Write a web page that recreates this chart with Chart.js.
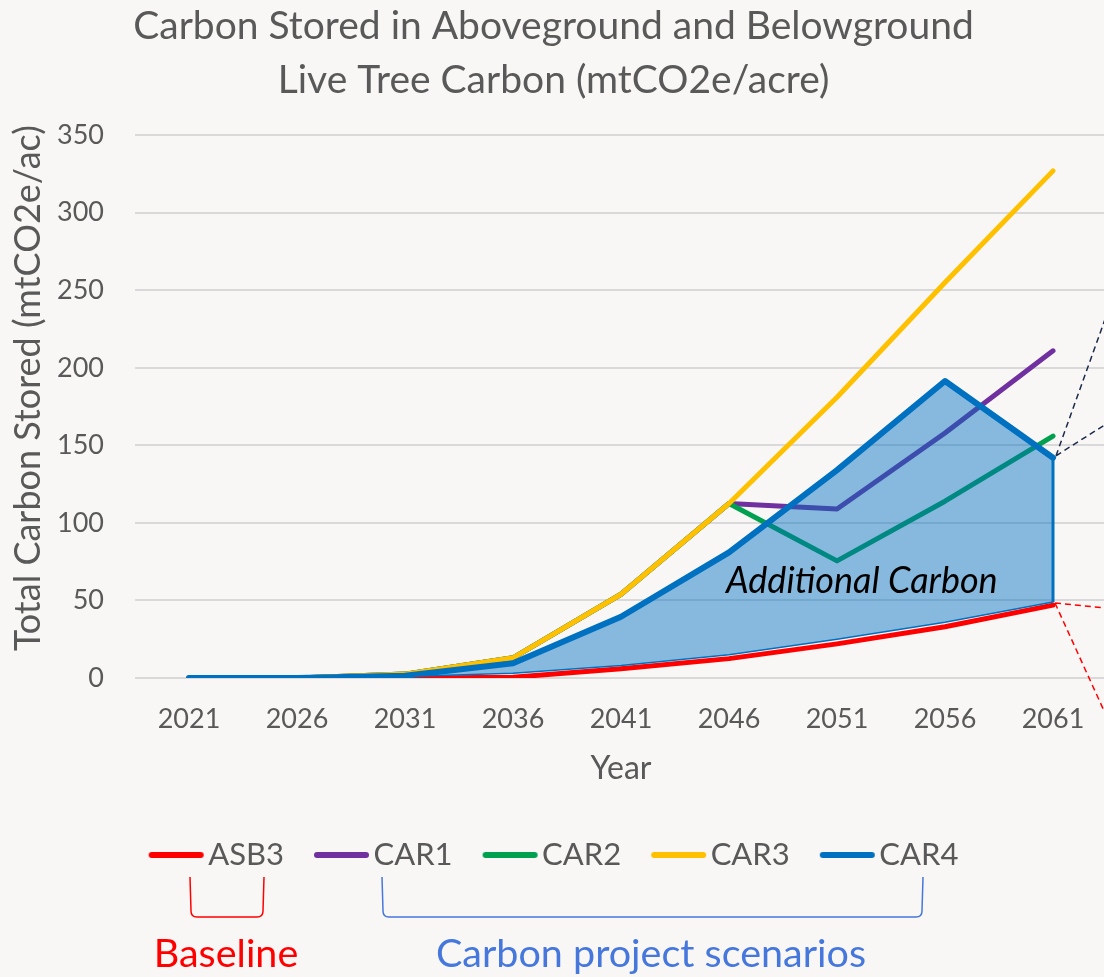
<!DOCTYPE html>
<html>
<head>
<meta charset="utf-8">
<script src="https://cdn.jsdelivr.net/npm/chart.js@4.4.1/dist/chart.umd.min.js"></script>
<style>
  html, body { margin: 0; padding: 0; background: #f8f7f5; overflow: hidden; }
  #wrap { width: 1104px; height: 977px; overflow: hidden; }
  canvas { display: block; }
</style>
</head>
<body>
<div id="wrap"><canvas id="chart" width="1107" height="977"></canvas></div>
<script>
// values (mtCO2e/ac)
const years = ['2021', '2026', '2031', '2036', '2041', '2046', '2051', '2056', '2061']
const asb3 = [0, 0, 0, 0.5, 6, 12.5, 22, 33, 47]
const car1 = [0, 0, 2.5, 13, 54, 112.5, 109, 158, 211]
const car2 = [0, 0, 2.5, 13, 54, 112.5, 75.5, 114, 156]
const car3 = [0, 0, 2.5, 13, 54, 112.5, 181, 255, 327]
const car4 = [0, 0, 1.5, 9.5, 39.5, 81, 134, 191.5, 142]
// lower edge of the shaded "Additional Carbon" area
const fillBase = [0, 0, 1, 3, 8, 15, 25, 36, 49]
const yTicks = [0, 50, 100, 150, 200, 250, 300, 350]

const FONT = 'Lato, "Open Sans", sans-serif'
const GREY = '#595959'
const BG = '#f8f7f5'

// legend swatch: a short thick line, drawn so the text sits right after it
function lineMarker(color) {
  const c = document.createElement('canvas')
  c.width = 72
  c.height = 10
  const g = c.getContext('2d')
  g.strokeStyle = color
  g.lineWidth = 6
  g.lineCap = 'round'
  g.beginPath()
  g.moveTo(17, 5)
  g.lineTo(66, 5)
  g.stroke()
  return c
}

function series(label, data, color, order, width) {
  return {
    label, data, order,
    borderColor: color,
    backgroundColor: color,
    borderWidth: width || 5,
    borderCapStyle: 'round',
    borderJoinStyle: 'round',
    pointRadius: 0,
    tension: 0,
    fill: false,
  }
}

const datasets = [
  series('ASB3', asb3, '#ff0000', 3),
  series('CAR1', car1, '#7030a0', 5),
  series('CAR2', car2, '#00a04f', 4),
  series('CAR3', car3, '#ffc000', 1),
  Object.assign(series('CAR4', car4, '#0070c0', 0, 6), {
    fill: { target: 5 },
    backgroundColor: 'rgba(0,112,192,0.46)',
  }),
  series('base', fillBase, '#0070c0', 2, 1.5),
]

const extras = {
  id: 'extras',
  beforeDraw(chart) {
    const ctx = chart.ctx
    ctx.save()
    ctx.fillStyle = BG
    ctx.fillRect(0, 0, chart.width, chart.height)
    ctx.restore()
  },
  afterDatasetsDraw(chart) {
    const ctx = chart.ctx
    const x = chart.scales.x
    const y = chart.scales.y
    const last = years.length - 1
    const top = chart.getDatasetMeta(4).data[last]
    const bot = chart.getDatasetMeta(5).data[last]

    ctx.save()
    // right edge of the shaded polygon
    ctx.strokeStyle = '#0070c0'
    ctx.lineWidth = 3
    ctx.beginPath()
    ctx.moveTo(top.x, top.y)
    ctx.lineTo(bot.x, bot.y)
    ctx.stroke()

    // label inside the area
    const lx = x.getPixelForValue(6) * 0.77 + x.getPixelForValue(7) * 0.23
    ctx.fillStyle = '#000'
    ctx.font = 'italic 36px ' + FONT
    ctx.textAlign = 'center'
    ctx.textBaseline = 'middle'
    ctx.fillText('Additional Carbon', lx, y.getPixelForValue(62))

    // callout lines leaving the chart on the right
    ctx.lineWidth = 1.5
    ctx.setLineDash([6, 4])
    ctx.strokeStyle = '#1b2a4a'
    ctx.beginPath()
    ctx.moveTo(top.x + 3, top.y - 2)
    ctx.lineTo(top.x + 63, top.y - 169)
    ctx.moveTo(top.x + 3, top.y - 2)
    ctx.lineTo(top.x + 63, top.y - 40)
    ctx.stroke()
    ctx.strokeStyle = '#ff0000'
    ctx.beginPath()
    ctx.moveTo(bot.x + 2, bot.y + 1)
    ctx.lineTo(bot.x + 62, bot.y + 7)
    ctx.moveTo(bot.x + 2, bot.y + 1)
    ctx.lineTo(bot.x + 62, bot.y + 133)
    ctx.stroke()
    ctx.restore()
  },
  afterDraw(chart) {
    const ctx = chart.ctx
    function bracket(x1, x2, yTop, yBot, color) {
      const r = 6
      ctx.strokeStyle = color
      ctx.lineWidth = 1.5
      ctx.beginPath()
      ctx.moveTo(x1 - 1, yTop)
      ctx.lineTo(x1, yBot - r)
      ctx.quadraticCurveTo(x1, yBot, x1 + r, yBot)
      ctx.lineTo(x2 - r, yBot)
      ctx.quadraticCurveTo(x2, yBot, x2, yBot - r)
      ctx.lineTo(x2 + 1, yTop)
      ctx.stroke()
    }
    ctx.save()
    bracket(191, 263, 877, 917, '#ff0000')
    bracket(383, 922, 877, 917, '#4577dd')
    ctx.font = '39.5px ' + FONT
    ctx.textAlign = 'center'
    ctx.textBaseline = 'middle'
    ctx.fillStyle = '#ff0000'
    ctx.fillText('Baseline', 226, 954)
    ctx.fillStyle = '#4577dd'
    ctx.fillText('Carbon project scenarios', 651, 954)
    ctx.restore()
  },
}

new Chart(document.getElementById('chart'), {
  type: 'line',
  data: { labels: years, datasets },
  plugins: [extras],
  options: {
    responsive: false,
    animation: false,
    events: [],
    layout: { padding: { left: 0, right: 0, top: 0, bottom: 96.5 } },
    plugins: {
      title: {
        display: true,
        text: ['Carbon Stored in Aboveground and Belowground', 'Live Tree Carbon (mtCO2e/acre)'],
        color: GREY,
        font: { family: FONT, size: 39, weight: 'normal', lineHeight: 1.4 },
        padding: { top: -1, bottom: 27 },
      },
      legend: {
        position: 'bottom',
        labels: {
          color: GREY,
          font: { family: FONT, size: 31 },
          usePointStyle: true,
          pointStyleWidth: 44,
          padding: 30,
          filter: item => item.datasetIndex < 5,
          sort: (a, b) => a.datasetIndex - b.datasetIndex,
          generateLabels(chart) {
            const base = Chart.defaults.plugins.legend.labels.generateLabels(chart)
            return base.map(item => Object.assign(item, {
              pointStyle: lineMarker(datasets[item.datasetIndex].borderColor),
            }))
          },
        },
      },
      tooltip: { enabled: false },
    },
    scales: {
      x: {
        offset: true,
        grid: { display: false },
        border: { display: false },
        ticks: { color: GREY, font: { family: FONT, size: 27 }, padding: 17 },
        title: {
          display: true,
          text: 'Year',
          color: GREY,
          font: { family: FONT, size: 32 },
          padding: { top: 0, bottom: 22 },
        },
        afterFit(scale) { scale.height = 131.5 },
      },
      y: {
        min: 0,
        max: 350,
        afterBuildTicks(scale) { scale.ticks = yTicks.map(v => ({ value: v })) },
        grid: { color: '#d9d9d9', lineWidth: 2, drawTicks: false },
        border: { display: false },
        ticks: { color: GREY, font: { family: FONT, size: 27 }, padding: 31 },
        title: {
          display: true,
          text: '    Total Carbon Stored (mtCO2e/ac)',
          color: GREY,
          font: { family: FONT, size: 36 },
          padding: { top: 7, bottom: 0 },
        },
        afterFit(scale) { scale.width = 135 },
      },
    },
  },
})
</script>
</body>
</html>
